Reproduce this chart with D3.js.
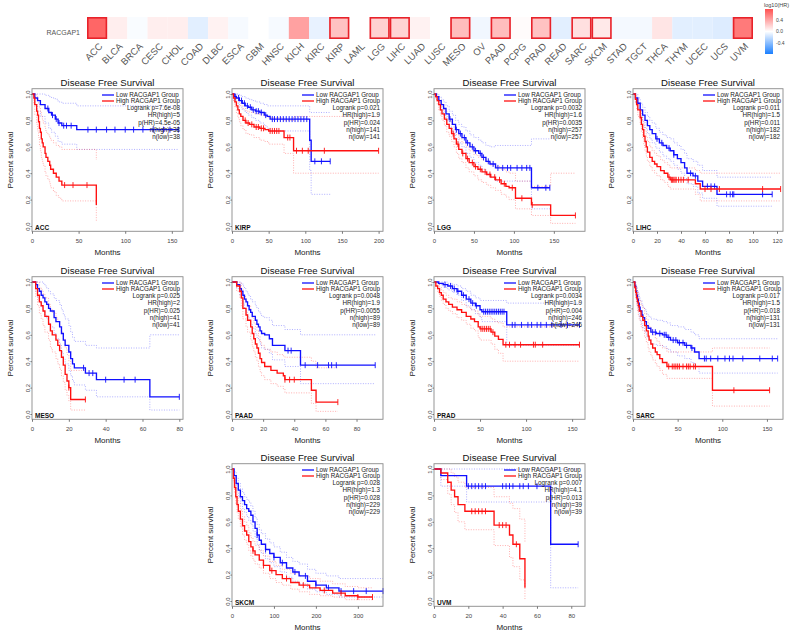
<!DOCTYPE html>
<html>
<head>
<meta charset="utf-8">
<script src="https://cdn.jsdelivr.net/npm/d3@7"></script>
<style>
  body { margin: 0; background: #fff; }
  svg { display: block; font-family: "Liberation Sans", Arial, sans-serif; }
</style>
</head>
<body>
<div id="vis"></div>
<script>
// frame
const FRAME_WIDTH = 800;
const FRAME_HEIGHT = 643;

// heatmap data (log10 HR of RACGAP1 per cancer type)
const CANCERS = ["ACC","BLCA","BRCA","CESC","CHOL","COAD","DLBC","ESCA","GBM","HNSC","KICH",
  "KIRC","KIRP","LAML","LGG","LIHC","LUAD","LUSC","MESO","OV","PAAD","PCPG","PRAD","READ",
  "SARC","SKCM","STAD","TGCT","THCA","THYM","UCEC","UCS","UVM"];
const LOG_HR = [0.70, 0.08, -0.02, 0.08, 0.08, -0.10, 0.06, -0.03, 0.0, -0.03, 0.43,
  -0.08, 0.28, 0.0, 0.21, 0.20, 0.06, 0.0, 0.30, -0.05, 0.30, 0.02, 0.28, -0.10,
  0.14, 0.10, -0.04, -0.04, 0.12, -0.10, -0.10, -0.12, 0.61];
const SIGNIFICANT = ["ACC","KIRP","LGG","LIHC","MESO","PAAD","PRAD","SARC","SKCM","UVM"];
const COLORBAR_TICKS = [0.4, 0.0, -0.4];

// survival curves: [months, survival, lower CI, upper CI]
const ACC_LOW = [[0,1,1,1],[3,0.97,0.92,1],[6,0.95,0.87,1],[9,0.92,0.83,1],[14,0.89,0.78,0.99],
  [18,0.86,0.74,0.98],[21,0.84,0.71,0.97],[25,0.81,0.68,0.96],[28,0.78,0.64,0.94],[32,0.76,0.62,0.93],
  [48,0.73,0.58,0.91],[157,0.73,0.58,0.91]];
const ACC_HIGH = [[0,1,1,1],[2,0.97,0.92,1],[3,0.92,0.84,1],[5,0.87,0.77,0.98],[6,0.84,0.72,0.96],
  [7,0.79,0.67,0.93],[8,0.74,0.61,0.9],[9,0.71,0.57,0.87],[10,0.66,0.52,0.84],[11,0.63,0.49,0.81],
  [12,0.6,0.46,0.78],[14,0.55,0.41,0.74],[15,0.52,0.38,0.71],[17,0.49,0.35,0.69],[19,0.46,0.32,0.67],
  [20,0.43,0.29,0.65],[23,0.4,0.26,0.63],[26,0.37,0.23,0.61],[29,0.34,0.21,0.6],[32,0.31,0.19,0.58],
  [69,0.16,0.04,0.5]];
const ACC_LOW_CENS = [17,22,26,29,34,37,42,60,69,80,89,100,109,119,130,141,148,157];
const ACC_HIGH_CENS = [35,44,59];
const ACC_STATS = ["Logrank p=7.6e-08","HR(high)=5","p(HR)=4.5e-05","n(high)=38","n(low)=38"];

const KIRP_LOW = [[0,1,1,1],[3,0.98,0.95,1],[6,0.97,0.93,1],[10,0.95,0.9,0.99],[14,0.93,0.88,0.98],
  [18,0.91,0.86,0.97],[22,0.9,0.84,0.96],[27,0.88,0.82,0.95],[32,0.87,0.8,0.94],[38,0.86,0.78,0.93],
  [44,0.84,0.76,0.92],[48,0.83,0.74,0.91],[52,0.81,0.72,0.91],[106,0.65,0.42,0.86],[108,0.49,0.24,0.86],
  [134,0.49,0.24,0.86]];
const KIRP_HIGH = [[0,1,1,1],[2,0.97,0.94,1],[4,0.94,0.9,0.99],[6,0.91,0.86,0.97],[8,0.88,0.82,0.95],
  [10,0.85,0.79,0.93],[12,0.83,0.76,0.91],[15,0.8,0.73,0.89],[19,0.78,0.7,0.87],[24,0.77,0.69,0.86],
  [30,0.75,0.67,0.85],[38,0.74,0.65,0.84],[45,0.73,0.64,0.83],[50,0.72,0.62,0.82],[71,0.67,0.55,0.8],
  [84,0.57,0.4,0.83],[200,0.57,0.4,0.83]];
const KIRP_LOW_CENS = [5,9,13,17,21,25,29,33,36,40,46,55,58,62,66,70,74,78,82,86,90,94,98,102,113,122,134];
const KIRP_HIGH_CENS = [18,22,27,33,36,40,43,52,55,58,61,64,76,79,88,96,104,126,200];
const KIRP_STATS = ["Logrank p=0.021","HR(high)=1.9","p(HR)=0.024","n(high)=141","n(low)=141"];

const LGG_LOW = [[0,1,1,1],[3,0.98,0.96,1],[6,0.95,0.92,0.98],[9,0.92,0.88,0.96],[12,0.89,0.84,0.94],
  [15,0.85,0.8,0.91],[19,0.81,0.75,0.87],[23,0.77,0.71,0.84],[27,0.73,0.66,0.8],[31,0.7,0.63,0.77],
  [35,0.67,0.6,0.75],[40,0.63,0.55,0.72],[45,0.6,0.52,0.69],[50,0.57,0.48,0.67],[56,0.55,0.46,0.65],
  [60,0.52,0.43,0.63],[65,0.49,0.4,0.61],[70,0.47,0.37,0.6],[77,0.44,0.34,0.61],[122,0.29,0.13,0.66],
  [145,0.29,0.13,0.66]];
const LGG_HIGH = [[0,1,1,1],[2,0.98,0.96,1],[4,0.95,0.92,0.98],[6,0.92,0.88,0.96],[8,0.88,0.84,0.93],
  [10,0.85,0.8,0.9],[13,0.81,0.76,0.87],[16,0.77,0.71,0.83],[19,0.74,0.68,0.8],[22,0.7,0.64,0.77],
  [25,0.66,0.6,0.73],[28,0.62,0.55,0.69],[31,0.58,0.51,0.66],[35,0.55,0.48,0.63],[40,0.51,0.44,0.6],
  [44,0.48,0.41,0.57],[50,0.45,0.38,0.54],[55,0.43,0.35,0.52],[60,0.41,0.33,0.5],[66,0.39,0.31,0.48],
  [71,0.37,0.29,0.46],[77,0.35,0.27,0.45],[84,0.32,0.24,0.43],[90,0.3,0.22,0.41],[94,0.29,0.2,0.4],
  [102,0.21,0.13,0.34],[122,0.16,0.08,0.3],[146,0.08,0.02,0.4],[177,0.08,0.02,0.4]];
const LGG_LOW_CENS = [20,28,33,38,42,48,52,58,62,68,74,80,86,92,96,104,110,116,120,130,140,145];
const LGG_HIGH_CENS = [24,30,36,42,48,52,58,64,70,76,82,88,98,110,123,177];
const LGG_STATS = ["Logrank p=0.0032","HR(high)=1.6","p(HR)=0.0035","n(high)=257","n(low)=257"];

const LIHC_LOW = [[0,1,1,1],[2,0.97,0.94,1],[4,0.93,0.89,0.97],[6,0.88,0.83,0.93],[8,0.84,0.79,0.9],
  [10,0.8,0.74,0.86],[12,0.76,0.7,0.83],[14,0.73,0.66,0.8],[16,0.7,0.63,0.78],[19,0.66,0.59,0.74],
  [22,0.63,0.56,0.71],[25,0.61,0.53,0.69],[28,0.59,0.51,0.67],[31,0.57,0.49,0.66],[34,0.54,0.46,0.63],
  [37,0.51,0.43,0.61],[40,0.48,0.4,0.58],[43,0.44,0.36,0.55],[45,0.4,0.32,0.51],[50,0.38,0.3,0.49],
  [54,0.34,0.25,0.46],[58,0.3,0.21,0.42],[70,0.24,0.15,0.37],[116,0.24,0.15,0.37]];
const LIHC_HIGH = [[0,1,1,1],[2,0.96,0.93,0.99],[3,0.92,0.88,0.96],[4,0.88,0.83,0.93],[6,0.82,0.77,0.88],
  [7,0.77,0.71,0.83],[8,0.73,0.66,0.8],[9,0.68,0.61,0.76],[10,0.64,0.57,0.72],[11,0.6,0.53,0.68],
  [12,0.56,0.49,0.64],[14,0.52,0.45,0.6],[16,0.49,0.42,0.57],[18,0.47,0.4,0.55],[20,0.45,0.38,0.53],
  [23,0.42,0.35,0.5],[26,0.4,0.33,0.48],[29,0.37,0.3,0.46],[31,0.35,0.28,0.44],[52,0.32,0.24,0.42],
  [56,0.28,0.19,0.4],[123,0.28,0.19,0.4]];
const LIHC_LOW_CENS = [20,24,30,34,48,52,62,65,68,78,81,83,84,108,116];
const LIHC_HIGH_CENS = [30,32,33,34,35,36,38,40,42,46,60,65,72,108,123];
const LIHC_STATS = ["Logrank p=0.011","HR(high)=1.5","p(HR)=0.011","n(high)=182","n(low)=182"];

const MESO_LOW = [[0,1,1,1],[2,0.98,0.93,1],[3,0.95,0.88,1],[4,0.93,0.85,1],[5,0.9,0.81,1],
  [6,0.88,0.78,0.99],[7,0.85,0.75,0.97],[8,0.83,0.72,0.95],[9,0.8,0.69,0.93],[10,0.78,0.66,0.91],
  [12,0.73,0.61,0.88],[13,0.7,0.57,0.86],[15,0.66,0.53,0.83],[16,0.61,0.47,0.79],[17,0.56,0.42,0.75],
  [18,0.52,0.38,0.72],[20,0.47,0.33,0.67],[21,0.42,0.29,0.62],[22,0.38,0.25,0.58],[23,0.35,0.22,0.55],
  [29,0.31,0.18,0.52],[35,0.26,0.13,0.5],[64,0.13,0.03,0.6],[80,0.13,0.03,0.6]];
const MESO_HIGH = [[0,1,1,1],[2,0.95,0.89,1],[3,0.9,0.82,1],[4,0.85,0.76,0.96],[5,0.82,0.72,0.94],
  [6,0.78,0.67,0.91],[7,0.74,0.62,0.88],[9,0.68,0.56,0.83],[10,0.63,0.5,0.79],[11,0.6,0.47,0.77],
  [13,0.56,0.42,0.73],[14,0.52,0.38,0.7],[15,0.48,0.34,0.66],[16,0.43,0.29,0.62],[17,0.37,0.24,0.57],
  [18,0.3,0.18,0.5],[19,0.25,0.14,0.45],[20,0.2,0.1,0.4],[21,0.11,0.03,0.33],[29,0.11,0.03,0.33]];
const MESO_LOW_CENS = [28,31,33,40,50,56,80];
const MESO_HIGH_CENS = [20,29];
const MESO_STATS = ["Logrank p=0.025","HR(high)=2","p(HR)=0.025","n(high)=41","n(low)=41"];

const PAAD_LOW = [[0,1,1,1],[3,0.98,0.95,1],[5,0.95,0.9,1],[6,0.93,0.88,0.99],[7,0.9,0.84,0.97],
  [8,0.87,0.8,0.95],[9,0.85,0.77,0.93],[10,0.82,0.74,0.91],[11,0.79,0.71,0.89],[12,0.77,0.68,0.87],
  [13,0.74,0.65,0.85],[15,0.71,0.61,0.82],[16,0.68,0.58,0.8],[17,0.66,0.56,0.78],[18,0.63,0.53,0.76],
  [19,0.61,0.5,0.74],[21,0.6,0.49,0.73],[24,0.57,0.46,0.71],[26,0.52,0.41,0.67],[34,0.48,0.36,0.64],
  [44,0.37,0.23,0.6],[92,0.37,0.23,0.6]];
const PAAD_HIGH = [[0,1,1,1],[3,0.97,0.93,1],[5,0.93,0.88,0.99],[6,0.88,0.81,0.95],[7,0.8,0.72,0.89],
  [9,0.75,0.66,0.85],[10,0.71,0.62,0.82],[12,0.66,0.56,0.77],[13,0.61,0.51,0.73],[14,0.57,0.47,0.69],
  [15,0.53,0.43,0.66],[16,0.5,0.4,0.63],[17,0.46,0.36,0.59],[18,0.42,0.32,0.55],[19,0.39,0.29,0.52],
  [21,0.36,0.26,0.49],[25,0.33,0.23,0.47],[29,0.31,0.21,0.45],[33,0.29,0.19,0.44],[34,0.26,0.16,0.43],
  [51,0.18,0.08,0.4],[54,0.09,0.02,0.35],[68,0.09,0.02,0.35]];
const PAAD_LOW_CENS = [36,38,47,55,62,64,67,92];
const PAAD_HIGH_CENS = [34,37,40,68];
const PAAD_STATS = ["Logrank p=0.0048","HR(high)=1.9","p(HR)=0.0055","n(high)=89","n(low)=89"];

const PRAD_LOW = [[0,1,1,1],[5,0.99,0.98,1],[10,0.98,0.96,1],[15,0.97,0.94,0.99],[20,0.95,0.92,0.98],
  [25,0.93,0.9,0.97],[30,0.9,0.86,0.95],[35,0.87,0.82,0.93],[40,0.84,0.79,0.9],[45,0.82,0.76,0.88],
  [50,0.79,0.73,0.86],[52,0.775,0.7,0.86],[79,0.675,0.52,0.84],[158,0.675,0.52,0.84]];
const PRAD_HIGH = [[0,1,1,1],[2,0.97,0.95,0.99],[4,0.95,0.92,0.98],[6,0.92,0.89,0.96],[8,0.9,0.86,0.94],
  [10,0.87,0.83,0.92],[13,0.85,0.8,0.9],[16,0.83,0.78,0.88],[20,0.81,0.76,0.87],[25,0.79,0.73,0.85],
  [30,0.77,0.71,0.83],[35,0.74,0.68,0.81],[40,0.72,0.65,0.79],[44,0.7,0.63,0.78],[48,0.66,0.58,0.75],
  [50,0.645,0.56,0.74],[62,0.62,0.53,0.72],[66,0.59,0.49,0.7],[70,0.565,0.46,0.69],[75,0.525,0.4,0.66],
  [158,0.525,0.4,0.66]];
const PRAD_LOW_CENS = [12,18,22,26,32,38,42,46,54,56,58,60,62,64,66,68,70,72,74,76,85,88,95,102,106,112,116,122,128,138,145,158];
const PRAD_HIGH_CENS = [51,53,55,57,59,61,64,78,82,88,94,108,110,118,158];
const PRAD_STATS = ["Logrank p=0.0034","HR(high)=1.9","p(HR)=0.004","n(high)=246","n(low)=246"];

const SARC_LOW = [[0,1,1,1],[2,0.97,0.94,1],[3,0.93,0.89,0.98],[4,0.9,0.85,0.96],[5,0.87,0.81,0.93],
  [6,0.84,0.78,0.91],[7,0.81,0.74,0.88],[8,0.78,0.71,0.86],[10,0.75,0.67,0.83],[11,0.73,0.65,0.81],
  [13,0.7,0.62,0.79],[15,0.67,0.59,0.76],[17,0.65,0.57,0.74],[20,0.62,0.53,0.72],[26,0.61,0.52,0.71],
  [33,0.6,0.51,0.7],[38,0.58,0.49,0.69],[42,0.56,0.47,0.67],[50,0.54,0.44,0.66],[58,0.52,0.42,0.64],
  [65,0.5,0.39,0.62],[69,0.47,0.36,0.6],[74,0.42,0.31,0.57],[162,0.42,0.31,0.57]];
const SARC_HIGH = [[0,1,1,1],[2,0.96,0.93,1],[3,0.92,0.87,0.97],[4,0.88,0.82,0.94],[5,0.85,0.78,0.92],
  [6,0.82,0.75,0.89],[7,0.78,0.71,0.86],[9,0.74,0.66,0.82],[11,0.71,0.63,0.8],[13,0.67,0.58,0.76],
  [15,0.63,0.54,0.72],[17,0.59,0.5,0.69],[18,0.56,0.47,0.66],[20,0.53,0.44,0.63],[22,0.5,0.41,0.6],
  [25,0.47,0.38,0.57],[27,0.45,0.36,0.55],[30,0.42,0.33,0.52],[33,0.39,0.3,0.5],[38,0.36,0.27,0.47],
  [89,0.18,0.06,0.5],[153,0.18,0.06,0.5]];
const SARC_LOW_CENS = [22,25,30,35,37,40,45,48,52,56,60,66,80,82,87,95,103,108,112,123,142,156,162];
const SARC_HIGH_CENS = [40,44,46,48,50,52,56,60,62,64,68,70,113,153];
const SARC_STATS = ["Logrank p=0.017","HR(high)=1.5","p(HR)=0.018","n(high)=131","n(low)=131"];

const SKCM_LOW = [[0,1,1,1],[5,0.95,0.92,0.98],[10,0.89,0.85,0.93],[15,0.84,0.79,0.89],[20,0.79,0.74,0.85],
  [25,0.76,0.7,0.82],[30,0.73,0.67,0.79],[35,0.7,0.64,0.77],[40,0.68,0.61,0.75],[45,0.65,0.58,0.72],
  [50,0.6,0.53,0.68],[55,0.55,0.48,0.63],[60,0.5,0.43,0.58],[65,0.46,0.39,0.54],[70,0.43,0.36,0.51],
  [80,0.39,0.32,0.47],[90,0.36,0.29,0.44],[100,0.33,0.26,0.41],[115,0.29,0.22,0.37],[130,0.25,0.18,0.33],
  [145,0.22,0.15,0.3],[160,0.19,0.13,0.28],[180,0.15,0.09,0.24],[200,0.12,0.07,0.21],[225,0.1,0.05,0.19],
  [255,0.075,0.03,0.17],[360,0.075,0.03,0.17]];
const SKCM_HIGH = [[0,1,1,1],[3,0.93,0.9,0.96],[6,0.86,0.82,0.9],[9,0.79,0.74,0.84],[12,0.73,0.67,0.79],
  [15,0.68,0.62,0.74],[20,0.62,0.56,0.69],[25,0.57,0.5,0.64],[30,0.53,0.46,0.6],[35,0.5,0.43,0.57],
  [40,0.45,0.38,0.52],[45,0.41,0.34,0.48],[50,0.38,0.31,0.45],[55,0.35,0.28,0.42],[65,0.31,0.25,0.38],
  [75,0.27,0.21,0.34],[90,0.23,0.17,0.3],[105,0.2,0.14,0.27],[120,0.17,0.12,0.24],[140,0.14,0.09,0.21],
  [160,0.12,0.07,0.19],[185,0.1,0.05,0.17],[210,0.08,0.04,0.15],[240,0.06,0.03,0.13],[270,0.04,0.01,0.11],
  [300,0.03,0.01,0.1],[335,0.03,0.01,0.1]];
const SKCM_LOW_CENS = [60,80,100,120,150,175,200,230,260,290,320,360];
const SKCM_HIGH_CENS = [50,75,95,130,170,220,260,300,335];
const SKCM_STATS = ["Logrank p=0.028","HR(high)=1.3","p(HR)=0.028","n(high)=229","n(low)=229"];

const UVM_LOW = [[0,1,1,1],[4,0.95,0.87,1],[19,0.87,0.75,1],[68,0.43,0.1,1],[84,0.43,0.1,1]];
const UVM_HIGH = [[0,1,1,1],[4,0.97,0.92,1],[8,0.9,0.81,1],[10,0.84,0.73,0.97],[12,0.79,0.67,0.94],
  [14,0.73,0.6,0.9],[18,0.68,0.54,0.86],[35,0.575,0.42,0.79],[44,0.5,0.33,0.74],[46,0.43,0.26,0.7],
  [50,0.32,0.16,0.62],[53,0.1,0.01,0.45]];
const UVM_LOW_CENS = [20,22,24,26,28,30,40,42,44,46,50,52,55,60,84];
const UVM_HIGH_CENS = [22,24,26,28,30,38,40,42,48];
const UVM_STATS = ["Logrank p=0.007","HR(high)=4.1","p(HR)=0.013","n(high)=39","n(low)=39"];

// panel table built from the arrays above
const PANELS = [
  {name: "ACC",  col: 0, row: 0, xmax: 162, ticks: [0,50,100,150],     low: ACC_LOW,  high: ACC_HIGH,  lowCens: ACC_LOW_CENS,  highCens: ACC_HIGH_CENS,  stats: ACC_STATS},
  {name: "KIRP", col: 1, row: 0, xmax: 206, ticks: [0,50,100,150,200], low: KIRP_LOW, high: KIRP_HIGH, lowCens: KIRP_LOW_CENS, highCens: KIRP_HIGH_CENS, stats: KIRP_STATS},
  {name: "LGG",  col: 2, row: 0, xmax: 189, ticks: [0,50,100,150],     low: LGG_LOW,  high: LGG_HIGH,  lowCens: LGG_LOW_CENS,  highCens: LGG_HIGH_CENS,  stats: LGG_STATS},
  {name: "LIHC", col: 3, row: 0, xmax: 125, ticks: [0,20,40,60,80,100,120], low: LIHC_LOW, high: LIHC_HIGH, lowCens: LIHC_LOW_CENS, highCens: LIHC_HIGH_CENS, stats: LIHC_STATS},
  {name: "MESO", col: 0, row: 1, xmax: 82,  ticks: [0,20,40,60,80],    low: MESO_LOW, high: MESO_HIGH, lowCens: MESO_LOW_CENS, highCens: MESO_HIGH_CENS, stats: MESO_STATS},
  {name: "PAAD", col: 1, row: 1, xmax: 97,  ticks: [0,20,40,60,80],    low: PAAD_LOW, high: PAAD_HIGH, lowCens: PAAD_LOW_CENS, highCens: PAAD_HIGH_CENS, stats: PAAD_STATS},
  {name: "PRAD", col: 2, row: 1, xmax: 164, ticks: [0,50,100,150],     low: PRAD_LOW, high: PRAD_HIGH, lowCens: PRAD_LOW_CENS, highCens: PRAD_HIGH_CENS, stats: PRAD_STATS},
  {name: "SARC", col: 3, row: 1, xmax: 168, ticks: [0,50,100,150],     low: SARC_LOW, high: SARC_HIGH, lowCens: SARC_LOW_CENS, highCens: SARC_HIGH_CENS, stats: SARC_STATS},
  {name: "SKCM", col: 1, row: 2, xmax: 360, ticks: [0,100,200,300],    low: SKCM_LOW, high: SKCM_HIGH, lowCens: SKCM_LOW_CENS, highCens: SKCM_HIGH_CENS, stats: SKCM_STATS},
  {name: "UVM",  col: 2, row: 2, xmax: 88,  ticks: [0,20,40,60,80],    low: UVM_LOW,  high: UVM_HIGH,  lowCens: UVM_LOW_CENS,  highCens: UVM_HIGH_CENS,  stats: UVM_STATS}
];

// layout of the panel grid
const COL_LEFT = [32, 232, 434, 633];
const COL_RIGHT = [183, 383, 585, 783];
const ROW_TOP = [94, 282, 469];   // y of survival = 1.0
const PLOT_H = 132;               // 1.0 -> 0.0

const BLUE = "#1010ff";
const RED = "#ff1010";
const BLUE_CI = "rgba(60,60,255,0.45)";
const RED_CI = "rgba(255,60,60,0.45)";

const SVG = d3.select("#vis")
  .append("svg")
    .attr("width", FRAME_WIDTH)
    .attr("height", FRAME_HEIGHT);

//HEATMAP
const HM_X = d3.scaleBand().domain(CANCERS).range([87, 753]);
const HM_COLOR = d3.scaleLinear()
  .domain([-0.8, 0, 0.8])
  .range(["#1a7fff", "#ffffff", "#ff5050"]);

SVG.selectAll(".cell")
  .data(CANCERS)
  .enter()
  .append("rect")
    .attr("class", "cell")
    .attr("x", (d) => HM_X(d))
    .attr("y", 17)
    .attr("width", HM_X.bandwidth())
    .attr("height", 22)
    .attr("fill", (d, i) => HM_COLOR(LOG_HR[i]));

SVG.selectAll(".sig")
  .data(SIGNIFICANT)
  .enter()
  .append("rect")
    .attr("class", "sig")
    .attr("x", (d) => HM_X(d) + 0.8)
    .attr("y", 17.8)
    .attr("width", HM_X.bandwidth() - 1.6)
    .attr("height", 20.4)
    .attr("fill", "none")
    .attr("stroke", "#e8222a")
    .attr("stroke-width", 1.6);

SVG.append("text")
  .attr("x", 80).attr("y", 34.5)
  .attr("text-anchor", "end")
  .attr("font-size", "7px")
  .attr("fill", "#555")
  .text("RACGAP1");

SVG.selectAll(".hmlab")
  .data(CANCERS)
  .enter()
  .append("text")
    .attr("class", "hmlab")
    .attr("transform", (d) => "translate(" + (HM_X(d) + HM_X.bandwidth() / 2 + 6) + ",47) rotate(-45)")
    .attr("text-anchor", "end")
    .attr("font-size", "9.5px")
    .attr("fill", "#555")
    .text((d) => d);

// colour bar
const CB_Y = d3.scaleLinear().domain([-0.8, 0.8]).range([54, 9]);
const GRAD = SVG.append("defs").append("linearGradient")
  .attr("id", "cbgrad").attr("x1", 0).attr("y1", 0).attr("x2", 0).attr("y2", 1);
[0.8, 0.4, 0, -0.4, -0.8].forEach((v) => {
  GRAD.append("stop")
    .attr("offset", ((0.8 - v) / 1.6) * 100 + "%")
    .attr("stop-color", HM_COLOR(v));
});
SVG.append("rect")
  .attr("x", 765).attr("y", CB_Y(0.8))
  .attr("width", 8).attr("height", CB_Y(-0.8) - CB_Y(0.8))
  .attr("fill", "url(#cbgrad)");
SVG.selectAll(".cbtick")
  .data(COLORBAR_TICKS)
  .enter()
  .append("text")
    .attr("x", 776)
    .attr("y", (d) => CB_Y(d) + 1.8)
    .attr("font-size", "5px")
    .attr("fill", "#444")
    .text((d) => d3.format(".1f")(d).replace("\u2212", "-"));
SVG.append("text")
  .attr("x", 764).attr("y", 7)
  .attr("font-size", "5.5px")
  .attr("fill", "#444")
  .text("log10(HR)");

//SURVIVAL PANELS
function survAt(curve, t) {
  let s = 1;
  curve.forEach((d) => { if (d[0] <= t) s = d[1]; });
  return s;
}

function drawPanel(p) {
  const L = COL_LEFT[p.col], R = COL_RIGHT[p.col];
  const Y1 = ROW_TOP[p.row], Y0 = Y1 + PLOT_H;
  const X_SCALE = d3.scaleLinear().domain([0, p.xmax]).range([L, R]);
  const Y_SCALE = d3.scaleLinear().domain([0, 1]).range([Y0, Y1]);
  const top = Y_SCALE(1.04), bottom = Y_SCALE(-0.04);
  const g = SVG.append("g");

  // title
  g.append("text")
    .attr("x", (L + R) / 2).attr("y", top - 3)
    .attr("text-anchor", "middle")
    .attr("font-size", "9.6px")
    .attr("fill", "#111")
    .text("Disease Free Survival");

  // confidence intervals
  const ciLo = d3.line().x((d) => X_SCALE(d[0])).y((d) => Y_SCALE(d[2])).curve(d3.curveStepAfter);
  const ciHi = d3.line().x((d) => X_SCALE(d[0])).y((d) => Y_SCALE(d[3])).curve(d3.curveStepAfter);
  [[p.low, BLUE_CI], [p.high, RED_CI]].forEach(([c, col]) => {
    [ciLo, ciHi].forEach((ln) => {
      g.append("path")
        .attr("d", ln(c))
        .attr("fill", "none")
        .attr("stroke", col)
        .attr("stroke-width", 0.9)
        .attr("stroke-dasharray", "1,1.5");
    });
  });

  // KM curves
  const km = d3.line().x((d) => X_SCALE(d[0])).y((d) => Y_SCALE(d[1])).curve(d3.curveStepAfter);
  [[p.low, p.lowCens, BLUE], [p.high, p.highCens, RED]].forEach(([c, cens, col]) => {
    g.append("path")
      .attr("d", km(c))
      .attr("fill", "none")
      .attr("stroke", col)
      .attr("stroke-width", 1.35);
    g.selectAll(null)
      .data(cens)
      .enter()
      .append("line")
        .attr("x1", (t) => X_SCALE(t)).attr("x2", (t) => X_SCALE(t))
        .attr("y1", (t) => Y_SCALE(survAt(c, t)) - 3)
        .attr("y2", (t) => Y_SCALE(survAt(c, t)) + 3)
        .attr("stroke", col)
        .attr("stroke-width", 0.9);
  });

  // box
  g.append("rect")
    .attr("x", L).attr("y", top)
    .attr("width", R - L).attr("height", bottom - top)
    .attr("fill", "none")
    .attr("stroke", "#8a8a8a")
    .attr("stroke-width", 0.9);

  // x axis
  const xAxis = g.append("g")
    .attr("transform", "translate(0," + bottom + ")")
    .call(d3.axisBottom(X_SCALE).tickValues(p.ticks).tickSize(2.5).tickPadding(5));
  xAxis.select(".domain").remove();
  xAxis.selectAll("line").attr("stroke", "#777");
  xAxis.selectAll("text").attr("font-size", "6px").attr("fill", "#444");
  xAxis.attr("font-family", null);

  // y axis
  const yAxis = g.append("g")
    .attr("transform", "translate(" + L + ",0)")
    .call(d3.axisLeft(Y_SCALE).tickValues([0, 0.2, 0.4, 0.6, 0.8, 1]).tickFormat(d3.format(".1f")).tickSize(1.5));
  yAxis.select(".domain").remove();
  yAxis.attr("font-family", null);
  yAxis.selectAll("line").attr("stroke", "#777");
  yAxis.selectAll("text")
    .attr("transform", "rotate(-90)")
    .attr("x", 0).attr("y", -2.5).attr("dy", 0)
    .attr("text-anchor", "middle")
    .attr("font-size", "6px")
    .attr("fill", "#444");

  // axis titles
  g.append("text")
    .attr("transform", "translate(" + (L - 19) + "," + ((Y0 + Y1) / 2) + ") rotate(-90)")
    .attr("text-anchor", "middle")
    .attr("font-size", "8px")
    .attr("fill", "#222")
    .text("Percent survival");
  g.append("text")
    .attr("x", (L + R) / 2).attr("y", bottom + 24)
    .attr("text-anchor", "middle")
    .attr("font-size", "8px")
    .attr("fill", "#222")
    .text("Months");

  // legend
  [["Low RACGAP1 Group", BLUE], ["High RACGAP1 Group", RED]].forEach(([lab, col], i) => {
    const ly = Y1 + 1 + i * 6;
    g.append("line")
      .attr("x1", L + 70).attr("x2", L + 82)
      .attr("y1", ly).attr("y2", ly)
      .attr("stroke", col).attr("stroke-width", 1.3);
    g.append("text")
      .attr("x", L + 84).attr("y", ly + 2.2)
      .attr("font-size", "6.3px")
      .attr("fill", "#222")
      .text(lab);
  });
  g.selectAll(".stat")
    .data(p.stats)
    .enter()
    .append("text")
      .attr("x", R - 3)
      .attr("y", (d, i) => Y1 + 16 + i * 7.35)
      .attr("text-anchor", "end")
      .attr("font-size", "6.3px")
      .attr("fill", "#222")
      .text((d) => d);

  // cancer label
  g.append("text")
    .attr("x", L + 3).attr("y", Y0 + 3.5)
    .attr("font-size", "6.5px")
    .attr("font-weight", "bold")
    .attr("fill", "#111")
    .text(p.name);
}

PANELS.forEach(drawPanel);
</script>
</body>
</html>
